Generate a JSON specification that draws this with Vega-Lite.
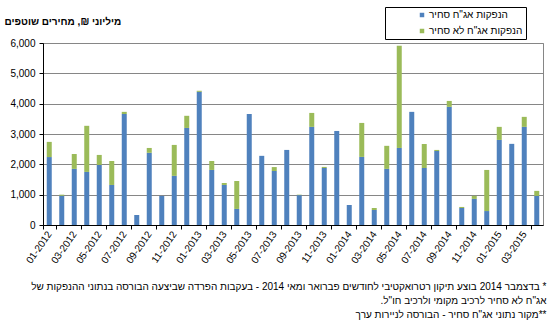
{
  "$schema": "https://vega.github.io/schema/vega-lite/v6.json",
  "width": 500,
  "height": 182,
  "autosize": {"type": "none"},
  "padding": {"left": 43, "top": 43, "right": 13, "bottom": 101},
  "background": "white",
  "data": {
    "values": [
      {"month": "01-2012", "series": "הנפקות אג\"ח סחיר", "value": 2240},
      {"month": "02-2012", "series": "הנפקות אג\"ח סחיר", "value": 965},
      {"month": "03-2012", "series": "הנפקות אג\"ח סחיר", "value": 1850},
      {"month": "04-2012", "series": "הנפקות אג\"ח סחיר", "value": 1750},
      {"month": "05-2012", "series": "הנפקות אג\"ח סחיר", "value": 1980},
      {"month": "06-2012", "series": "הנפקות אג\"ח סחיר", "value": 1320},
      {"month": "07-2012", "series": "הנפקות אג\"ח סחיר", "value": 3660},
      {"month": "08-2012", "series": "הנפקות אג\"ח סחיר", "value": 330},
      {"month": "09-2012", "series": "הנפקות אג\"ח סחיר", "value": 2380},
      {"month": "10-2012", "series": "הנפקות אג\"ח סחיר", "value": 960},
      {"month": "11-2012", "series": "הנפקות אג\"ח סחיר", "value": 1620},
      {"month": "12-2012", "series": "הנפקות אג\"ח סחיר", "value": 3200},
      {"month": "01-2013", "series": "הנפקות אג\"ח סחיר", "value": 4390},
      {"month": "02-2013", "series": "הנפקות אג\"ח סחיר", "value": 1815},
      {"month": "03-2013", "series": "הנפקות אג\"ח סחיר", "value": 1320},
      {"month": "04-2013", "series": "הנפקות אג\"ח סחיר", "value": 530},
      {"month": "05-2013", "series": "הנפקות אג\"ח סחיר", "value": 3660},
      {"month": "06-2013", "series": "הנפקות אג\"ח סחיר", "value": 2280},
      {"month": "07-2013", "series": "הנפקות אג\"ח סחיר", "value": 1780},
      {"month": "08-2013", "series": "הנפקות אג\"ח סחיר", "value": 2475},
      {"month": "09-2013", "series": "הנפקות אג\"ח סחיר", "value": 985},
      {"month": "10-2013", "series": "הנפקות אג\"ח סחיר", "value": 3235},
      {"month": "11-2013", "series": "הנפקות אג\"ח סחיר", "value": 1880},
      {"month": "12-2013", "series": "הנפקות אג\"ח סחיר", "value": 3100},
      {"month": "01-2014", "series": "הנפקות אג\"ח סחיר", "value": 660},
      {"month": "02-2014", "series": "הנפקות אג\"ח סחיר", "value": 2245},
      {"month": "03-2014", "series": "הנפקות אג\"ח סחיר", "value": 495},
      {"month": "04-2014", "series": "הנפקות אג\"ח סחיר", "value": 1850},
      {"month": "05-2014", "series": "הנפקות אג\"ח סחיר", "value": 2540},
      {"month": "06-2014", "series": "הנפקות אג\"ח סחיר", "value": 3730},
      {"month": "07-2014", "series": "הנפקות אג\"ח סחיר", "value": 1880},
      {"month": "08-2014", "series": "הנפקות אג\"ח סחיר", "value": 2440},
      {"month": "09-2014", "series": "הנפקות אג\"ח סחיר", "value": 3895},
      {"month": "10-2014", "series": "הנפקות אג\"ח סחיר", "value": 560},
      {"month": "11-2014", "series": "הנפקות אג\"ח סחיר", "value": 860},
      {"month": "12-2014", "series": "הנפקות אג\"ח סחיר", "value": 460},
      {"month": "01-2015", "series": "הנפקות אג\"ח סחיר", "value": 2805},
      {"month": "02-2015", "series": "הנפקות אג\"ח סחיר", "value": 2675},
      {"month": "03-2015", "series": "הנפקות אג\"ח סחיר", "value": 3235},
      {"month": "04-2015", "series": "הנפקות אג\"ח סחיר", "value": 960},
      {"month": "01-2012", "series": "הנפקות אג\"ח לא סחיר", "value": 500},
      {"month": "02-2012", "series": "הנפקות אג\"ח לא סחיר", "value": 35},
      {"month": "03-2012", "series": "הנפקות אג\"ח לא סחיר", "value": 490},
      {"month": "04-2012", "series": "הנפקות אג\"ח לא סחיר", "value": 1520},
      {"month": "05-2012", "series": "הנפקות אג\"ח לא סחיר", "value": 330},
      {"month": "06-2012", "series": "הנפקות אג\"ח לא סחיר", "value": 790},
      {"month": "07-2012", "series": "הנפקות אג\"ח לא סחיר", "value": 70},
      {"month": "09-2012", "series": "הנפקות אג\"ח לא סחיר", "value": 160},
      {"month": "11-2012", "series": "הנפקות אג\"ח לא סחיר", "value": 1020},
      {"month": "12-2012", "series": "הנפקות אג\"ח לא סחיר", "value": 400},
      {"month": "01-2013", "series": "הנפקות אג\"ח לא סחיר", "value": 35},
      {"month": "02-2013", "series": "הנפקות אג\"ח לא סחיר", "value": 295},
      {"month": "03-2013", "series": "הנפקות אג\"ח לא סחיר", "value": 65},
      {"month": "04-2013", "series": "הנפקות אג\"ח לא סחיר", "value": 920},
      {"month": "07-2013", "series": "הנפקות אג\"ח לא סחיר", "value": 130},
      {"month": "09-2013", "series": "הנפקות אג\"ח לא סחיר", "value": 15},
      {"month": "10-2013", "series": "הנפקות אג\"ח לא סחיר", "value": 460},
      {"month": "11-2013", "series": "הנפקות אג\"ח לא סחיר", "value": 35},
      {"month": "02-2014", "series": "הנפקות אג\"ח לא סחיר", "value": 1120},
      {"month": "03-2014", "series": "הנפקות אג\"ח לא סחיר", "value": 65},
      {"month": "04-2014", "series": "הנפקות אג\"ח לא סחיר", "value": 760},
      {"month": "05-2014", "series": "הנפקות אג\"ח לא סחיר", "value": 3370},
      {"month": "07-2014", "series": "הנפקות אג\"ח לא סחיר", "value": 790},
      {"month": "08-2014", "series": "הנפקות אג\"ח לא סחיר", "value": 35},
      {"month": "09-2014", "series": "הנפקות אג\"ח לא סחיר", "value": 195},
      {"month": "10-2014", "series": "הנפקות אג\"ח לא סחיר", "value": 35},
      {"month": "11-2014", "series": "הנפקות אג\"ח לא סחיר", "value": 100},
      {"month": "12-2014", "series": "הנפקות אג\"ח לא סחיר", "value": 1355},
      {"month": "01-2015", "series": "הנפקות אג\"ח לא סחיר", "value": 430},
      {"month": "03-2015", "series": "הנפקות אג\"ח לא סחיר", "value": 330},
      {"month": "04-2015", "series": "הנפקות אג\"ח לא סחיר", "value": 165}
    ]
  },
  "mark": {"type": "bar", "width": {"band": 0.4}},
  "encoding": {
    "x": {
      "field": "month",
      "type": "nominal",
      "sort": null,
      "scale": {"paddingInner": 0, "paddingOuter": 0},
      "axis": {
        "values": ["01-2012", "03-2012", "05-2012", "07-2012", "09-2012", "11-2012", "01-2013", "03-2013", "05-2013", "07-2013", "09-2013", "11-2013", "01-2014", "03-2014", "05-2014", "07-2014", "09-2014", "11-2014", "01-2015", "03-2015"],
        "tickBand": "extent",
        "labelAngle": -55,
        "labelAlign": "right",
        "labelBaseline": "middle",
        "labelPadding": 3,
        "labelOverlap": false,
        "tickSize": 4,
        "grid": false,
        "title": [
          "\u200f* בדצמבר 2014 בוצע תיקון רטרואקטיבי לחודשים פברואר ומאי 2014 - בעקבות הפרדה שביצעה הבורסה בנתוני ההנפקות של\u200f",
          "\u200fאג\"ח לא סחיר לרכיב מקומי ולרכיב חו\"ל.\u200f",
          "\u200f**מקור נתוני אג\"ח סחיר - הבורסה לניירות ערך\u200f"
        ],
        "titleX": 503,
        "titleY": 64,
        "titleAlign": "right",
        "titleBaseline": "alphabetic",
        "titleLineHeight": 14,
        "titleFontWeight": "normal",
        "titleFontSize": 10
      }
    },
    "y": {
      "field": "value",
      "type": "quantitative",
      "stack": "zero",
      "scale": {"domain": [0, 6000], "nice": false},
      "axis": {
        "values": [0, 1000, 2000, 3000, 4000, 5000, 6000],
        "format": ",.0f",
        "title": "\u200fמיליוני ₪, מחירים שוטפים\u200f",
        "titleAngle": 0,
        "titleX": -39,
        "titleY": -19,
        "titleAlign": "left",
        "titleBaseline": "alphabetic",
        "titleFontSize": 10,
        "titleFontWeight": "bold",
        "tickSize": 4,
        "labelPadding": 4,
        "gridColor": "#868686",
        "gridWidth": 1
      }
    },
    "color": {
      "field": "series",
      "type": "nominal",
      "scale": {
        "domain": ["הנפקות אג\"ח סחיר", "הנפקות אג\"ח לא סחיר"],
        "range": ["#4F81BD", "#9BBB59"]
      },
      "legend": {
        "orient": "none",
        "legendX": 342,
        "legendY": -36,
        "title": null,
        "strokeColor": "black",
        "padding": 3,
        "symbolType": "square",
        "symbolSize": 20,
        "symbolOffset": 29,
        "labelOffset": 2,
        "rowPadding": 6,
        "labelFontSize": 10,
        "labelColor": "black",
        "labelExpr": "datum.label + '\u00a0\u00a0\u00a0\u00a0\u00a0\u00a0\u00a0\u00a0\u00a0\u00a0'"
      }
    },
    "order": {"field": "series", "sort": "descending"}
  },
  "config": {
    "font": "Liberation Sans",
    "view": {"stroke": "#868686", "strokeWidth": 1},
    "axis": {
      "domainColor": "black",
      "tickColor": "black",
      "labelColor": "black",
      "titleColor": "black",
      "labelFontSize": 10,
      "labelFont": "Liberation Sans",
      "titleFont": "Liberation Sans"
    },
    "legend": {"labelFont": "Liberation Sans"}
  }
}
